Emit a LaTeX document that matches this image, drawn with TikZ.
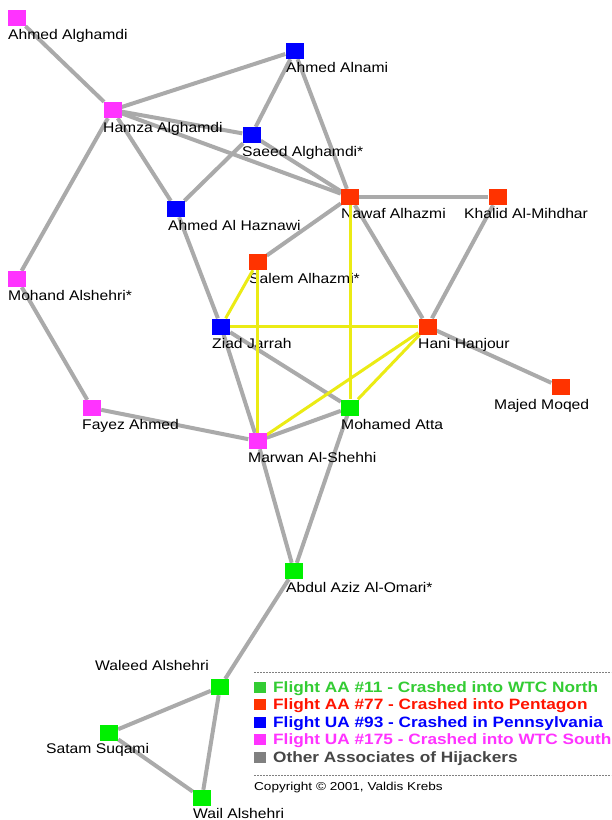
\documentclass[tikz,border=0pt]{standalone}
\usepackage{fontspec}
\setmainfont{Liberation Sans}[FakeStretch=1.12]
\newfontfamily\legfont{Liberation Sans}[FakeStretch=1.15]
\newfontfamily\copyfont{Liberation Sans}[FakeStretch=1.18]
\definecolor{magn}{RGB}{255,51,255}
\definecolor{blu}{RGB}{0,0,255}
\definecolor{redd}{RGB}{255,51,0}
\definecolor{grn}{RGB}{0,240,0}
\definecolor{edgegray}{RGB}{170,170,170}
\definecolor{yel}{RGB}{235,235,20}
\definecolor{leggreen}{RGB}{51,204,51}
\definecolor{legred}{RGB}{255,20,0}
\definecolor{legmag}{RGB}{255,51,255}
\definecolor{leggray}{RGB}{128,128,128}
\definecolor{legtext}{RGB}{70,70,70}
\pgfdeclarelayer{bg}
\pgfdeclarelayer{gedg}
\pgfdeclarelayer{lab}
\pgfdeclarelayer{yedg}
\pgfsetlayers{bg,gedg,lab,yedg,main}
\begin{document}
\begin{tikzpicture}[x=1pt,y=-1pt,
  sq/.style={rectangle,draw=none,minimum width=18pt,minimum height=16pt,inner sep=0pt},
  mag/.style={sq,fill=magn},
  blue/.style={sq,fill=blu},
  red/.style={sq,fill=redd},
  green/.style={sq,fill=grn},
  lbl/.style={anchor=base west,inner sep=0pt,font=\fontsize{14}{16}\selectfont},
  gedge/.style={draw=edgegray,line width=4pt},
  yedge/.style={draw=yel,line width=3pt},
  legsq/.style={rectangle,draw=none,minimum width=12pt,minimum height=11pt,inner sep=0pt},
  legtxt/.style={anchor=base west,inner sep=0pt,font=\legfont\bfseries\fontsize{15}{17}\selectfont},
  dline/.style={draw=gray,line width=1pt,dash pattern=on 2pt off 1pt}
]
\useasboundingbox (0,0) rectangle (611,820);
\begin{pgfonlayer}{bg}
\fill[white] (0,0) rectangle (611,820);
\end{pgfonlayer}

% nodes
\node[mag]   (AAlg) at (17,18) {};
\node[blue]  (AAln) at (294.5,51) {};
\node[mag]   (HA)   at (112.5,110) {};
\node[blue]  (SA)   at (251.5,135) {};
\node[red]   (NA)   at (350,197) {};
\node[red]   (KM)   at (497.5,197) {};
\node[blue]  (AH)   at (176,209) {};
\node[red]   (SAlh) at (257.5,262) {};
\node[mag]   (MA)   at (17,279) {};
\node[blue]  (ZJ)   at (221,326.5) {};
\node[red]   (HH)   at (427.5,326.5) {};
\node[red]   (MM)   at (560.5,387) {};
\node[mag]   (FA)   at (92,408) {};
\node[green] (MAt)  at (350,407.5) {};
\node[mag]   (MS)   at (257.5,441) {};
\node[green] (AAO)  at (294,571) {};
\node[green] (WA)   at (220,687) {};
\node[green] (SS)   at (109,733) {};
\node[green] (WaA)  at (202,798) {};

% labels (above grey edges, below yellow edges)
\begin{pgfonlayer}{lab}
\node[lbl] (lAAlg) at (8,39) {Ahmed Alghamdi};
\node[lbl] (lAAln) at (286,72) {Ahmed Alnami};
\node[lbl] (lHA)   at (103,132) {Hamza Alghamdi};
\node[lbl] (lSA)   at (242,156) {Saeed Alghamdi*};
\node[lbl] (lNA)   at (341,218) {Nawaf Alhazmi};
\node[lbl] (lKM)   at (464,218) {Khalid Al-Mihdhar};
\node[lbl] (lAH)   at (168,230) {Ahmed Al Haznawi};
\node[lbl] (lSAlh) at (249,283) {Salem Alhazmi*};
\node[lbl] (lMA)   at (8,300) {Mohand Alshehri*};
\node[lbl] (lZJ)   at (212,348) {Ziad Jarrah};
\node[lbl] (lHH)   at (418,348) {Hani Hanjour};
\node[lbl] (lMM)   at (494,409) {Majed Moqed};
\node[lbl] (lFA)   at (82,429) {Fayez Ahmed};
\node[lbl] (lMAt)  at (341,429) {Mohamed Atta};
\node[lbl] (lMS)   at (248,462) {Marwan Al-Shehhi};
\node[lbl] (lAAO)  at (286,592) {Abdul Aziz Al-Omari*};
\node[lbl] (lWA)   at (95,670) {Waleed Alshehri};
\node[lbl] (lSS)   at (46,753) {Satam Suqami};
\node[lbl] (lWaA)  at (193,818) {Wail Alshehri};
\end{pgfonlayer}

% grey edges
\begin{pgfonlayer}{gedg}
\draw[gedge] (AAlg) -- (HA);
\draw[gedge] (HA) -- (AAln);
\draw[gedge] (HA) -- (SA);
\draw[gedge] (HA) -- (NA);
\draw[gedge] (HA) -- (AH);
\draw[gedge] (HA) -- (MA);
\draw[gedge] (AAln) -- (SA);
\draw[gedge] (AAln) -- (NA);
\draw[gedge] (SA) -- (NA);
\draw[gedge] (SA) -- (AH);
\draw[gedge] (AH) -- (ZJ);
\draw[gedge] (NA) -- (KM);
\draw[gedge] (NA) -- (SAlh);
\draw[gedge] (NA) -- (HH);
\draw[gedge] (KM) -- (HH);
\draw[gedge] (HH) -- (MM);
\draw[gedge] (MA) -- (FA);
\draw[gedge] (FA) -- (MS);
\draw[gedge] (ZJ) -- (MS);
\draw[gedge] (ZJ) -- (MAt);
\draw[gedge] (MAt) -- (MS);
\draw[gedge] (MS) -- (AAO);
\draw[gedge] (MAt) -- (AAO);
\draw[gedge] (AAO) -- (WA);
\draw[gedge] (WA) -- (SS);
\draw[gedge] (WA) -- (WaA);
\draw[gedge] (SS) -- (WaA);
\end{pgfonlayer}

% yellow edges
\begin{pgfonlayer}{yedg}
\draw[yedge] (SAlh) -- (ZJ);
\draw[yedge] (SAlh) -- (MS);
\draw[yedge] (NA) -- (MAt);
\draw[yedge] (ZJ) -- (HH);
\draw[yedge] (HH) -- (MS);
\draw[yedge] (HH) -- (MAt);
\end{pgfonlayer}

% legend
\coordinate (d1a) at (254,672);
\coordinate (d1b) at (611,672);
\coordinate (d2a) at (254,775);
\coordinate (d2b) at (611,775);
\draw[dline] (d1a) -- (d1b);
\draw[dline] (d2a) -- (d2b);
\node[legsq,fill=leggreen] (k1) at (260,687) {};
\node[legsq,fill=redd]     (k2) at (260,704.5) {};
\node[legsq,fill=blu]      (k3) at (260,722) {};
\node[legsq,fill=legmag]   (k4) at (260,739.5) {};
\node[legsq,fill=leggray]  (k5) at (260,757.5) {};
\node[legtxt,text=leggreen] (t1) at (273,692) {Flight AA \#11 - Crashed into WTC North};
\node[legtxt,text=legred]   (t2) at (273,709.5) {Flight AA \#77 - Crashed into Pentagon};
\node[legtxt,text=blu]      (t3) at (273,727) {Flight UA \#93 - Crashed in Pennsylvania};
\node[legtxt,text=legmag]   (t4) at (273,744.5) {Flight UA \#175 - Crashed into WTC South};
\node[legtxt,text=legtext]  (t5) at (273,762.5) {Other Associates of Hijackers};
\node[anchor=base west,inner sep=0pt,font=\copyfont\fontsize{11.5}{13}\selectfont] (cr) at (254,790) {Copyright © 2001, Valdis Krebs};
\end{tikzpicture}
\end{document}
